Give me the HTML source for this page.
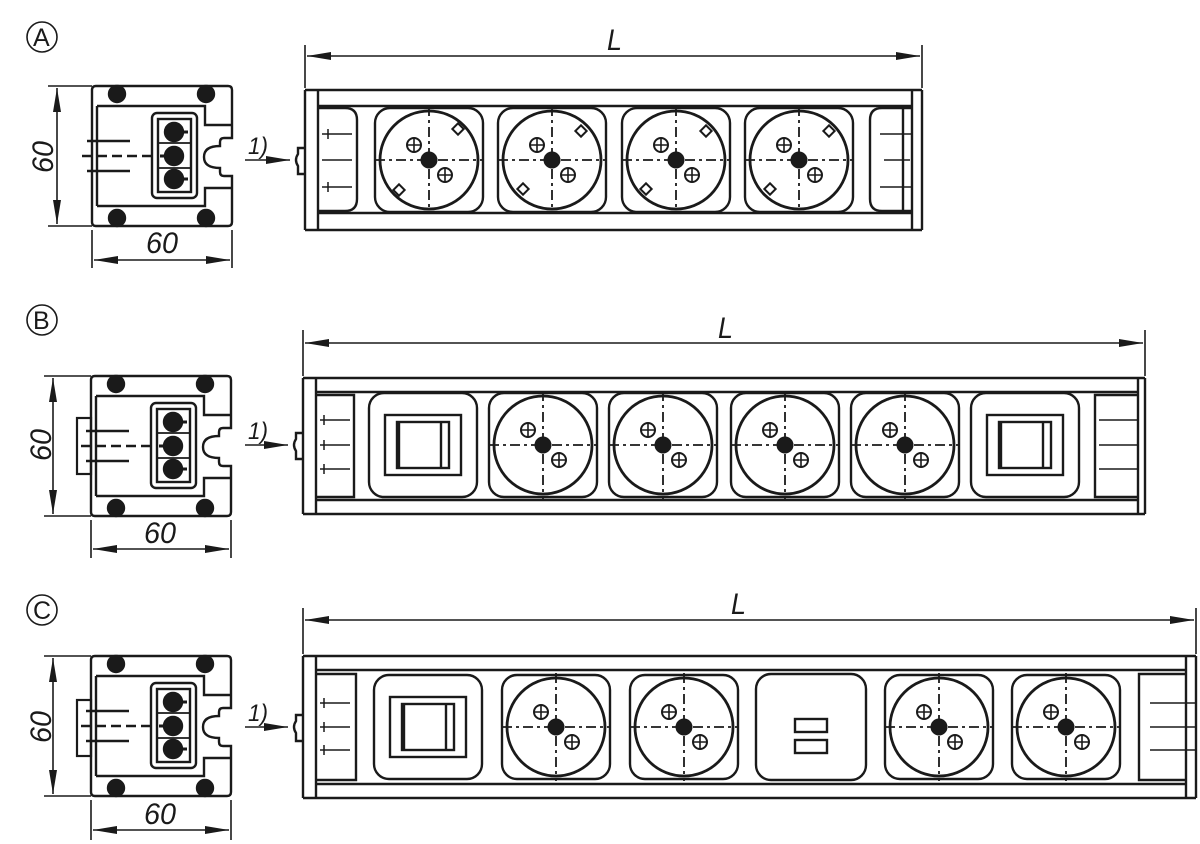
<!DOCTYPE html>
<html><head><meta charset="utf-8"><style>
html,body{margin:0;padding:0;background:#fff;}
svg{display:block;}
text{font-family:"Liberation Sans",sans-serif;font-style:italic;fill:#1a1a1a;}
</style></head><body>
<svg width="1200" height="844" viewBox="0 0 1200 844" xmlns="http://www.w3.org/2000/svg">
<defs>
<marker id="ar" viewBox="0 0 24 8" refX="24" refY="4" markerWidth="24" markerHeight="8" markerUnits="userSpaceOnUse" orient="auto-start-reverse">
<path d="M0,0 L24,4 L0,8 Z" fill="#1a1a1a"/></marker>
<g id="pin"><circle r="7" fill="#fff" stroke="#1a1a1a" stroke-width="2"/><path d="M-7,0H7M0,-7V7" stroke="#1a1a1a" stroke-width="1.6"/></g>
<g id="sock" fill="none" stroke="#1a1a1a">
<rect x="-54" y="-52" width="108" height="104" rx="15" stroke-width="2.4"/>
<circle r="49" stroke-width="2.8"/>
<path d="M-54,0H54M0,-54V54" stroke-width="1.8" stroke-dasharray="10 4 3 4"/>
<use href="#pin" x="-15" y="-15"/><use href="#pin" x="16" y="15"/>
<circle r="8" fill="#1a1a1a"/>
</g>
<g id="sw" fill="none" stroke="#1a1a1a" stroke-width="2.4">
<rect x="-54" y="-52" width="108" height="104" rx="15"/>
<rect x="-38" y="-30" width="76" height="60"/>
<rect x="-26" y="-23" width="52" height="46"/>
<path d="M-24,-23V23M18,-23V23"/>
</g>
<g id="usb" fill="none" stroke="#1a1a1a" stroke-width="2.4">
<rect x="-55" y="-53" width="110" height="106" rx="15"/>
<rect x="-16" y="-8" width="32" height="13"/>
<rect x="-16" y="13" width="32" height="13"/>
</g>
<g id="side" fill="none" stroke="#1a1a1a" stroke-width="2.4">
<path d="M0,4 Q0,0 4,0 H136 Q140,0 140,4 V52 H132 Q128,52 128,56 V60 Q112,60 112,71 Q112,82 128,82 V86 Q128,90 132,90 H140 V136 Q140,140 136,140 H4 Q0,140 0,136 Z"/>
<path d="M5,20 H113 V39 H140"/>
<path d="M5,120 H113 V102 H140"/>
<path d="M5,20 V120"/>
<rect x="60" y="27" width="45" height="85" rx="5"/>
<rect x="66" y="33" width="33" height="73"/>
<path d="M66,57H99M66,82H99" stroke-width="1.8"/>
<path d="M-5,55H38M-5,85H38"/>
<path d="M-10,70H60" stroke-dasharray="10 5"/>
<circle cx="82" cy="46" r="9" fill="#1a1a1a"/><circle cx="82" cy="70" r="9" fill="#1a1a1a"/><circle cx="82" cy="93" r="9" fill="#1a1a1a"/>
<path d="M91,46h5M91,93h5M73,70h-5" stroke-width="3"/>
<circle cx="25" cy="8" r="8" fill="#1a1a1a"/><circle cx="114" cy="8" r="8" fill="#1a1a1a"/>
<circle cx="25" cy="132" r="8" fill="#1a1a1a"/><circle cx="114" cy="132" r="8" fill="#1a1a1a"/>
</g>
</defs>

<g fill="none" stroke="#1a1a1a" stroke-width="1.6">
<circle cx="42" cy="37" r="15"/><circle cx="42" cy="320" r="15"/><circle cx="42" cy="610" r="15"/>
</g>
<text x="33" y="46" font-size="25" style="font-style:normal">A</text>
<text x="33" y="329" font-size="25" style="font-style:normal">B</text>
<text x="33" y="619" font-size="25" style="font-style:normal">C</text>

<!-- ===== ROW A ===== -->
<use href="#side" x="92" y="86"/>
<g stroke="#1a1a1a" stroke-width="1.6" fill="none">
<path d="M48,86H92M48,226H92"/>
<path d="M57,88V224" marker-start="url(#ar)" marker-end="url(#ar)"/>
<path d="M92,230V268M232,230V268"/>
<path d="M94,260H230" marker-start="url(#ar)" marker-end="url(#ar)"/>
<path d="M245,160H290" marker-end="url(#ar)"/>
<path d="M305,45V88M922,45V88"/>
<path d="M307,56H920" marker-start="url(#ar)" marker-end="url(#ar)"/>
</g>
<text x="26" y="168" font-size="30" textLength="32" lengthAdjust="spacingAndGlyphs" transform="rotate(-90 42 157)">60</text>
<text x="146" y="253" font-size="30" textLength="32" lengthAdjust="spacingAndGlyphs">60</text>
<text x="248" y="154" font-size="24" textLength="20" lengthAdjust="spacingAndGlyphs">1)</text>
<text x="607" y="50" font-size="30" textLength="15" lengthAdjust="spacingAndGlyphs">L</text>
<g fill="none" stroke="#1a1a1a" stroke-width="2.4">
<path d="M305,90V230M318,90V230M305,90H922M318,106H912M318,213H912M305,230H922M922,90V230M912,90V230"/>
<path d="M305,148H298V154Q294,160 298,166V174H305"/>
<path d="M318,108H345Q357,108 357,120V199Q357,211 345,211H318"/>
<path d="M912,108H882Q870,108 870,120V199Q870,211 882,211H912M903,108V211"/>
<path d="M322,134H352M322,160H352M322,187H352M328,129V139M328,182V192" stroke-width="1.5"/>
<path d="M880,134H912M884,160H910M880,187H912" stroke-width="1.5"/>
</g>
<use href="#sock" x="429" y="160"/><use href="#sock" x="552" y="160"/><use href="#sock" x="676" y="160"/><use href="#sock" x="799" y="160"/>
<g fill="#fff" stroke="#1a1a1a" stroke-width="2">
<rect x="-4" y="-4" width="8" height="8" transform="translate(458 129) rotate(45)"/><rect x="-4" y="-4" width="8" height="8" transform="translate(399 190) rotate(45)"/>
<rect x="-4" y="-4" width="8" height="8" transform="translate(581 131) rotate(45)"/><rect x="-4" y="-4" width="8" height="8" transform="translate(523 189) rotate(45)"/>
<rect x="-4" y="-4" width="8" height="8" transform="translate(706 131) rotate(45)"/><rect x="-4" y="-4" width="8" height="8" transform="translate(646 189) rotate(45)"/>
<rect x="-4" y="-4" width="8" height="8" transform="translate(829 131) rotate(45)"/><rect x="-4" y="-4" width="8" height="8" transform="translate(770 189) rotate(45)"/>
</g>

<!-- ===== ROW B ===== -->
<use href="#side" x="91" y="376"/>
<rect x="77" y="418" width="14" height="56" fill="none" stroke="#1a1a1a" stroke-width="2.2"/>
<g stroke="#1a1a1a" stroke-width="1.6" fill="none">
<path d="M44,376H91M44,516H91"/>
<path d="M53,378V514" marker-start="url(#ar)" marker-end="url(#ar)"/>
<path d="M91,520V558M231,520V558"/>
<path d="M93,549H229" marker-start="url(#ar)" marker-end="url(#ar)"/>
<path d="M245,445H288" marker-end="url(#ar)"/>
<path d="M303,330V376M1145,330V376"/>
<path d="M305,343H1143" marker-start="url(#ar)" marker-end="url(#ar)"/>
</g>
<text x="24" y="456" font-size="30" textLength="32" lengthAdjust="spacingAndGlyphs" transform="rotate(-90 40 445)">60</text>
<text x="144" y="543" font-size="30" textLength="32" lengthAdjust="spacingAndGlyphs">60</text>
<text x="248" y="439" font-size="24" textLength="20" lengthAdjust="spacingAndGlyphs">1)</text>
<text x="718" y="338" font-size="30" textLength="15" lengthAdjust="spacingAndGlyphs">L</text>
<g fill="none" stroke="#1a1a1a" stroke-width="2.4">
<path d="M303,378V514M316,378V514M303,378H1145M316,392H1138M316,500H1138M303,514H1145M1145,378V514M1138,378V514"/>
<path d="M303,433H296V439Q292,445 296,451V459H303"/>
<path d="M316,395H354V497H316"/>
<path d="M1138,395H1095V497H1138"/>
<path d="M320,420H350M320,445H350M320,469H350M324,415V425M324,440V450M324,464V474" stroke-width="1.5"/>
<path d="M1099,420H1138M1099,445H1138M1099,469H1138" stroke-width="1.5"/>
</g>
<use href="#sw" x="423" y="445"/>
<use href="#sock" x="543" y="445"/><use href="#sock" x="663" y="445"/><use href="#sock" x="785" y="445"/><use href="#sock" x="905" y="445"/>
<use href="#sw" x="1025" y="445"/>

<!-- ===== ROW C ===== -->
<use href="#side" x="91" y="656"/>
<rect x="77" y="700" width="14" height="56" fill="none" stroke="#1a1a1a" stroke-width="2.2"/>
<g stroke="#1a1a1a" stroke-width="1.6" fill="none">
<path d="M44,656H91M44,796H91"/>
<path d="M53,658V794" marker-start="url(#ar)" marker-end="url(#ar)"/>
<path d="M91,800V840M231,800V840"/>
<path d="M93,830H229" marker-start="url(#ar)" marker-end="url(#ar)"/>
<path d="M245,727H288" marker-end="url(#ar)"/>
<path d="M303,608V654M1196,608V654"/>
<path d="M305,620H1194" marker-start="url(#ar)" marker-end="url(#ar)"/>
</g>
<text x="24" y="738" font-size="30" textLength="32" lengthAdjust="spacingAndGlyphs" transform="rotate(-90 40 727)">60</text>
<text x="144" y="824" font-size="30" textLength="32" lengthAdjust="spacingAndGlyphs">60</text>
<text x="248" y="721" font-size="24" textLength="20" lengthAdjust="spacingAndGlyphs">1)</text>
<text x="731" y="614" font-size="30" textLength="15" lengthAdjust="spacingAndGlyphs">L</text>
<g fill="none" stroke="#1a1a1a" stroke-width="2.4">
<path d="M303,656V798M316,656V798M303,656H1196M316,670H1186M316,784H1186M303,798H1196M1196,656V798M1186,656V798"/>
<path d="M303,715H296V721Q292,727 296,733V741H303"/>
<path d="M316,674H356V780H316"/>
<path d="M1186,674H1139V780H1186"/>
<path d="M320,703H350M320,727H350M320,750H350M324,698V708M324,722V732M324,745V755" stroke-width="1.5"/>
<path d="M1150,703H1196M1150,727H1196M1150,750H1196" stroke-width="1.5"/>
</g>
<use href="#sw" x="428" y="727"/>
<use href="#sock" x="556" y="727"/><use href="#sock" x="684" y="727"/>
<use href="#usb" x="811" y="727"/>
<use href="#sock" x="939" y="727"/><use href="#sock" x="1066" y="727"/>
</svg>
</body></html>
